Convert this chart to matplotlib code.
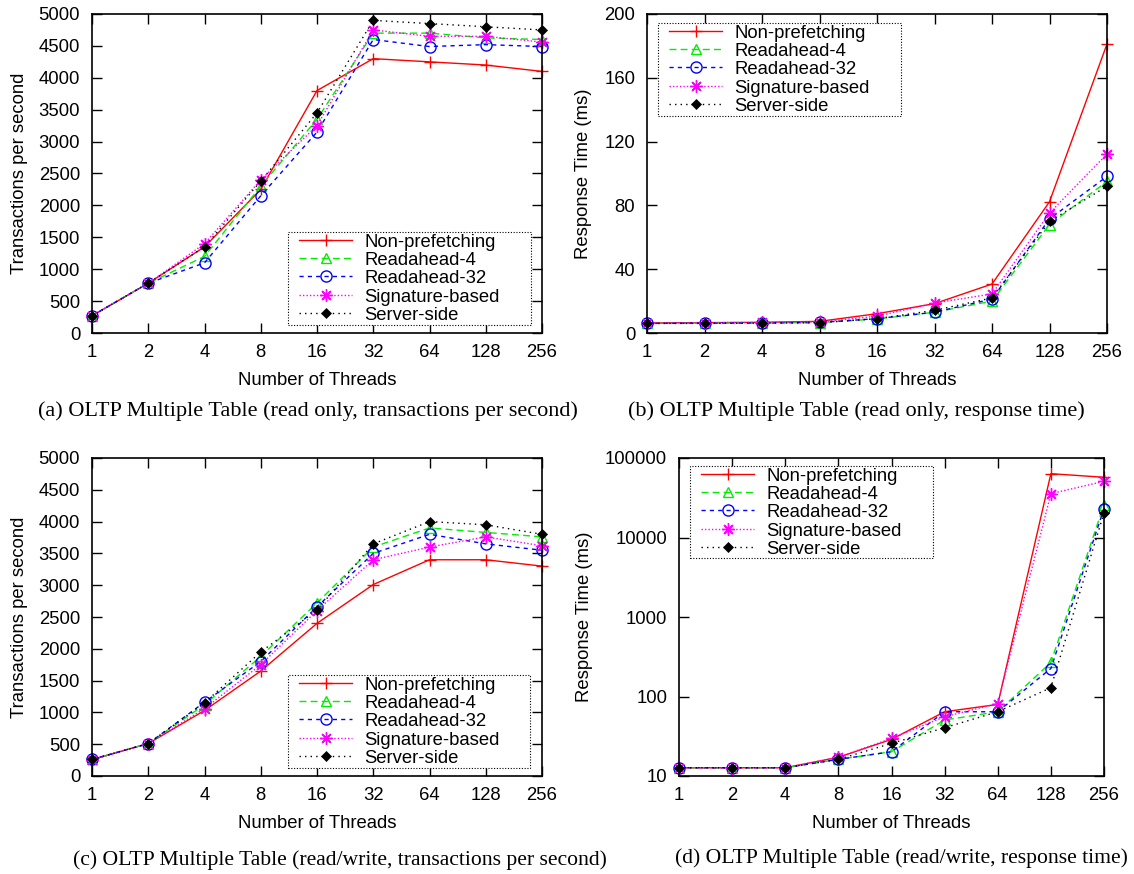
import matplotlib
matplotlib.use("Agg")
import matplotlib.pyplot as plt
from matplotlib.patches import Rectangle

threads = [1, 2, 4, 8, 16, 32, 64, 128, 256]
thread_labels = ["1", "2", "4", "8", "16", "32", "64", "128", "256"]
series_names = ["Non-prefetching", "Readahead-4", "Readahead-32", "Signature-based", "Server-side"]

# (a) read only, transactions per second
a_nonpref = [270, 780, 1350, 2250, 3800, 4300, 4250, 4200, 4100]
a_ra4     = [270, 780, 1200, 2300, 3350, 4700, 4700, 4625, 4600]
a_ra32    = [270, 780, 1100, 2150, 3150, 4600, 4490, 4520, 4490]
a_sig     = [270, 780, 1400, 2400, 3250, 4750, 4650, 4650, 4560]
a_server  = [270, 780, 1350, 2380, 3450, 4900, 4850, 4800, 4750]

# (b) read only, response time (ms)
b_nonpref = [6.3, 6.5, 6.7, 7.3, 12.1, 18.4, 30.7, 82.3, 181.2]
b_ra4     = [6.0, 6.2, 6.3, 6.5, 8.8, 13.0, 20.0, 68.0, 95.0]
b_ra32    = [6.0, 6.2, 6.3, 6.6, 9.0, 13.0, 21.3, 71.5, 98.2]
b_sig     = [6.3, 6.4, 6.6, 7.0, 10.5, 18.8, 24.5, 75.2, 112.2]
b_server  = [6.0, 6.0, 6.2, 6.5, 9.0, 14.2, 22.0, 70.0, 92.0]

# (c) read/write, transactions per second
c_nonpref = [260, 510, 1030, 1650, 2400, 3010, 3400, 3400, 3300]
c_ra4     = [260, 510, 1120, 1880, 2720, 3600, 3900, 3830, 3760]
c_ra32    = [260, 510, 1160, 1800, 2660, 3500, 3800, 3650, 3550]
c_sig     = [250, 510, 1060, 1750, 2600, 3400, 3600, 3760, 3620]
c_server  = [260, 510, 1150, 1950, 2610, 3650, 4000, 3950, 3800]

# (d) read/write, response time (ms)
d_nonpref = [12.7, 12.7, 12.7, 17.2, 28.9, 64.3, 79.5, 63500, 57200]
d_ra4     = [12.7, 12.7, 12.7, 16.2, 20.2, 50.6, 64.3, 268, 25900]
d_ra32    = [12.7, 12.7, 12.7, 16.2, 20.2, 64.3, 64.3, 225, 23100]
d_sig     = [12.7, 12.7, 12.7, 17.2, 29.7, 55.7, 81.6, 35600, 50900]
d_server  = [12.7, 12.7, 12.7, 16.2, 25.7, 40.5, 64.3, 129, 20400]

styles = [
    dict(color="#ff0000", linestyle="-", marker="+", markersize=9, mew=1.0),
    dict(color="#00ee00", linestyle=(0, (5, 3)), marker="^", markersize=7, mfc="none", mew=1.0),
    dict(color="#0000ff", linestyle=(0, (3, 3)), marker="o", markersize=8, mfc="none", mew=1.0),
    dict(color="#ff00ff", linestyle=(0, (1, 1.5)), marker=(8, 2, 0), markersize=9, mew=1.0),
    dict(color="#000000", linestyle=(0, (1, 3)), marker="D", markersize=5.5, mew=0.5),
]

plt.rcParams["font.family"] = ["Liberation Sans", "DejaVu Sans"]
FS = 13.3
W, H = 1134, 874

fig = plt.figure(figsize=(11.34, 8.74), dpi=100)

panels = [
    dict(rect=[92/W, 1-333/H, 450/W, 319/H], data=[a_nonpref, a_ra4, a_ra32, a_sig, a_server],
         ylabel="Transactions per second", ylim=(0, 5000), yticks=list(range(0, 5001, 500)), log=False,
         legbox=(288, 232, 531, 325), ylpad=8),
    dict(rect=[647/W, 1-333/H, 460/W, 319/H], data=[b_nonpref, b_ra4, b_ra32, b_sig, b_server],
         ylabel="Response Time (ms)", ylim=(0, 200), yticks=list(range(0, 201, 40)), log=False,
         legbox=(658, 23, 901, 116), ylpad=9),
    dict(rect=[92/W, 1-776/H, 450/W, 318/H], data=[c_nonpref, c_ra4, c_ra32, c_sig, c_server],
         ylabel="Transactions per second", ylim=(0, 5000), yticks=list(range(0, 5001, 500)), log=False,
         legbox=(288, 675, 530, 768), ylpad=8),
    dict(rect=[679/W, 1-776/H, 425/W, 318/H], data=[d_nonpref, d_ra4, d_ra32, d_sig, d_server],
         ylabel="Response Time (ms)", ylim=(10, 100000), yticks=[10, 100, 1000, 10000, 100000], log=True,
         legbox=(690, 466, 933, 558), ylpad=9),
]

for p in panels:
    ax = fig.add_axes(p["rect"])
    for vals, name, st in zip(p["data"], series_names, styles):
        ax.plot(threads, vals, label=name, linewidth=1.0, clip_on=False, **st)
    ax.set_xscale("log", base=2)
    ax.set_xlim(1, 256)
    ax.set_xticks(threads)
    ax.set_xticklabels(thread_labels)
    if p["log"]:
        ax.set_yscale("log")
        ax.set_yticks(p["yticks"])
        ax.set_yticklabels([str(v) for v in p["yticks"]])
    else:
        ax.set_yticks(p["yticks"])
    ax.minorticks_off()
    ax.set_ylim(*p["ylim"])
    ax.tick_params(direction="in", length=7, width=1.0, top=True, right=True, labelsize=FS)
    ax.tick_params(axis="x", pad=8)
    ax.tick_params(axis="y", pad=8.5)
    for s in ax.spines.values():
        s.set_linewidth(1.2)
    ax.set_xlabel("Number of Threads", fontsize=FS, labelpad=8)
    ax.set_ylabel(p["ylabel"], fontsize=FS, labelpad=p["ylpad"])

    x0, y0, x1, y1 = p["legbox"]
    fig.add_artist(Rectangle((x0/W, 1-y1/H), (x1-x0)/W, (y1-y0)/H, transform=fig.transFigure,
                             facecolor="white", edgecolor="black", linewidth=0.8,
                             linestyle=(0, (1, 1.5)), zorder=5))
    leg = ax.legend(loc="upper left", bbox_to_anchor=((x0+11)/W, 1-(y0+0.5)/H),
                    bbox_transform=fig.transFigure,
                    fontsize=FS, frameon=False, borderpad=0, labelspacing=0.02,
                    handlelength=2.87, handletextpad=0.65, borderaxespad=0, handleheight=0.9)
    leg.set_zorder(6)
    fig.add_artist(leg)

serif = ["Liberation Serif", "DejaVu Serif"]
fig.text(308/W, 1-411/H, "(a) OLTP Multiple Table (read only, transactions per second)",
         ha="center", va="center", fontsize=16, family=serif)
fig.text(856/W, 1-411/H, "(b) OLTP Multiple Table (read only, response time)",
         ha="center", va="center", fontsize=16, family=serif)
fig.text(340/W, 1-860/H, "(c) OLTP Multiple Table (read/write, transactions per second)",
         ha="center", va="center", fontsize=15.6, family=serif)
fig.text(901/W, 1-858/H, "(d) OLTP Multiple Table (read/write, response time)",
         ha="center", va="center", fontsize=15.6, family=serif)

fig.savefig("out.png", dpi=100)
